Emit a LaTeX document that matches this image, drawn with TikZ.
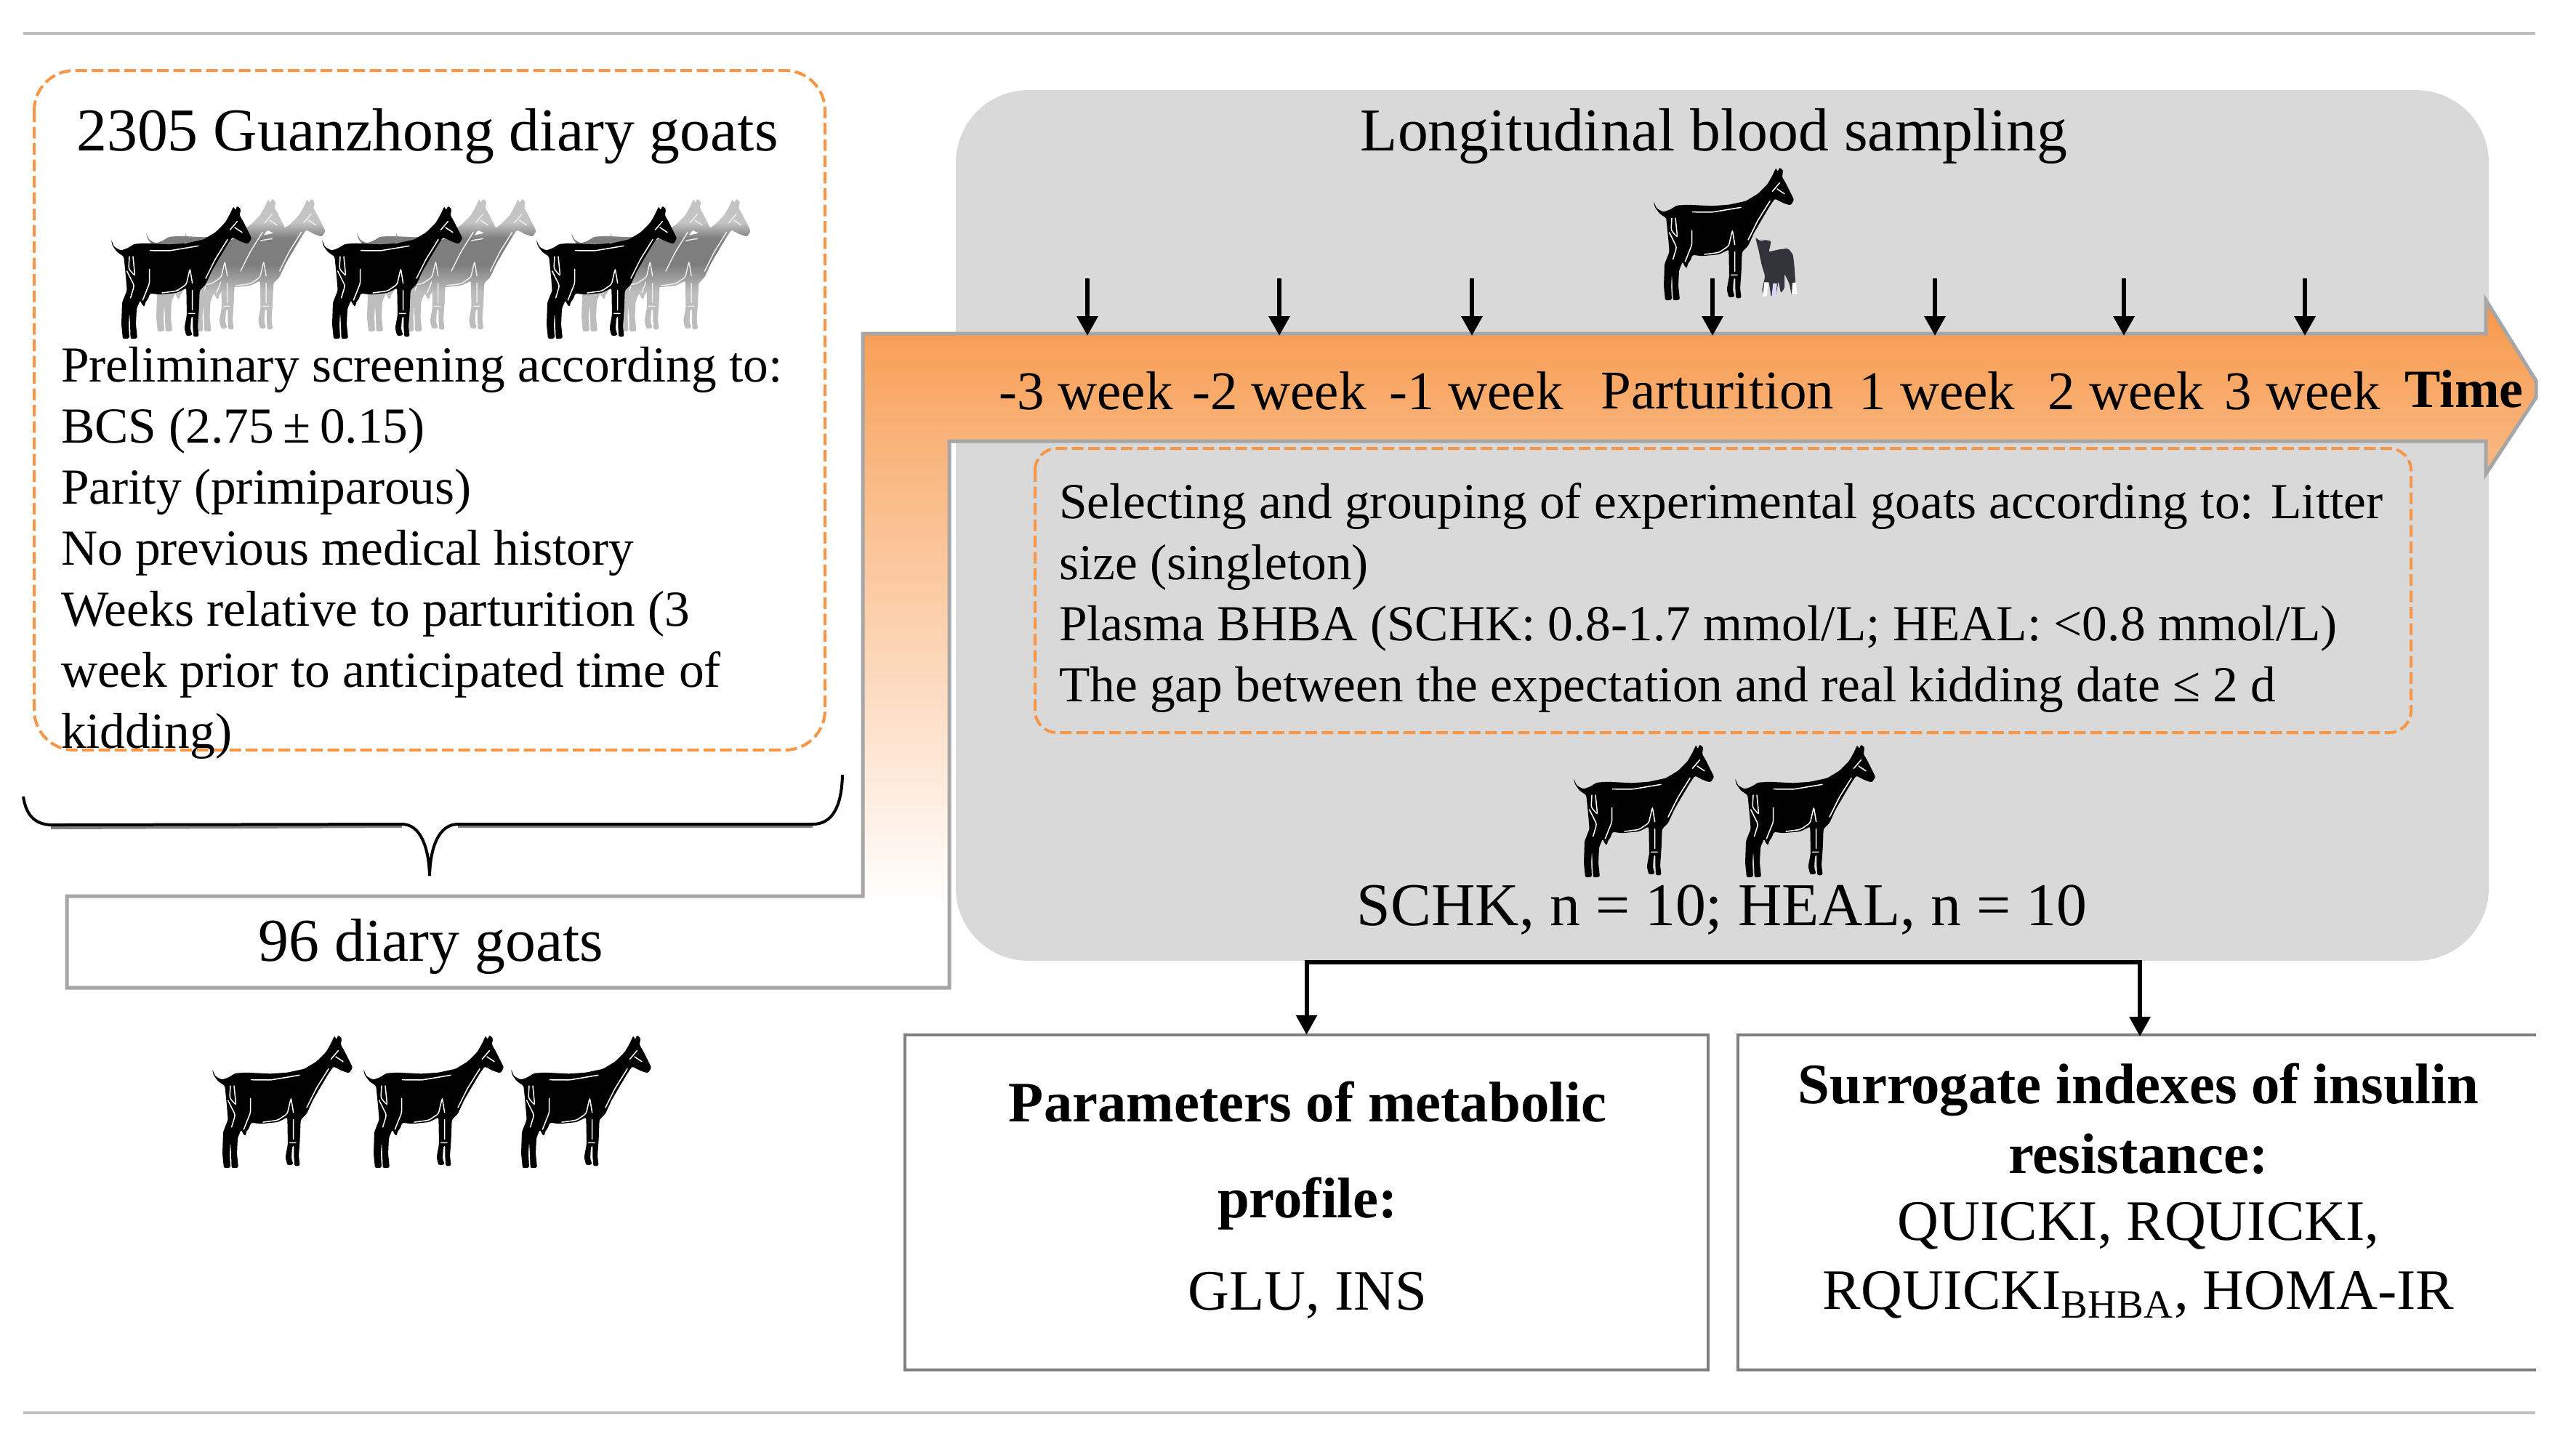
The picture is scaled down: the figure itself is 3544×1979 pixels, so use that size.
\documentclass[tikz,border=0pt]{standalone}
\usepackage{fontspec}
\setmainfont{Liberation Serif}
\usetikzlibrary{arrows.meta}
\definecolor{ruleg}{HTML}{BFBFBF}
\definecolor{panelg}{HTML}{D9D9D9}
\definecolor{arrowg}{HTML}{A6A6A6}
\definecolor{boxg}{HTML}{7F7F7F}
\definecolor{orangeD}{HTML}{F79646}
\definecolor{kidg}{HTML}{33333B}
\definecolor{ghostTop}{HTML}{C4C4C4}
\definecolor{ghostMid}{HTML}{7E7E7E}
\definecolor{ghostLow}{HTML}{BDBDBD}
\pgfdeclareverticalshading{bentfade}{100bp}{
  color(0bp)=(white); color(31bp)=(white); color(44bp)=(orangeD!28!white);
  color(64.7bp)=(orangeD!72!white); color(72.6bp)=(orangeD!92!white);
  color(75bp)=(orangeD); color(100bp)=(orangeD)}
\pgfdeclareverticalshading{ghostfade}{100bp}{
  color(0bp)=(ghostLow); color(25bp)=(ghostLow); color(40bp)=(ghostLow); color(50bp)=(ghostMid);
  color(60bp)=(ghostMid); color(66bp)=(ghostTop); color(75bp)=(ghostTop); color(100bp)=(ghostTop)}
\newcommand{\goatOutline}{(160,270) -- (172,300) -- (200,315) -- (228,305) -- (255,288) -- (300,285) -- (400,290) -- (470,285) -- (540,270) -- (590,240) -- (630,200) -- (650,165) -- (665,132) -- (672,150) -- (680,130) -- (690,140) -- (695,145) -- (690,170) -- (705,195) -- (725,235) -- (740,265) -- (725,288) -- (695,278) -- (660,260) -- (640,290) -- (610,340) -- (575,400) -- (550,455) -- (525,480) -- (522,560) -- (517,630) -- (522,670) -- (500,672) -- (497,630) -- (497,585) -- (490,590) -- (487,640) -- (495,665) -- (470,668) -- (462,635) -- (472,580) -- (470,470) -- (430,490) -- (360,497) -- (320,492) -- (312,515) -- (300,530) -- (298,548) -- (288,540) -- (280,520) -- (265,555) -- (262,620) -- (268,678) -- (240,680) -- (238,620) -- (235,570) -- (232,620) -- (235,678) -- (208,680) -- (202,620) -- (205,530) -- (225,480) -- (220,420) -- (212,340) -- (185,322) -- (165,295) -- cycle}
\newcommand{\goatLines}[1]{%
  \draw[#1,line width=.3pt,line cap=round,rounded corners=.6pt]
    (320,315) -- (400,316) -- (520,296)
    (550,430) -- (590,350) -- (640,270)
    (370,490) -- (430,482) -- (470,455) -- (485,390) -- (495,450)
    (318,392) -- (318,450) -- (290,520)
    (235,340) -- (232,390) -- (258,420) -- (250,340)
    (225,400) -- (255,460) -- (240,510)
    (650,230) -- (680,195)
    (670,220) -- (700,240)
    (495,480) -- (495,560) (480,575) -- (505,575);}
\tikzset{
  x=0.2pt,y=-0.2pt,
  txt/.style={inner sep=0pt,font=\fontsize{13.88}{16.8}\selectfont},
  head/.style={inner sep=0pt,font=\fontsize{16.75}{19}\selectfont},
  wk/.style={inner sep=0pt,font=\fontsize{15}{17}\selectfont},
  bx/.style={inner sep=0pt,font=\fontsize{15.75}{18}\selectfont,align=center},
  bxb/.style={inner sep=0pt,font=\fontsize{15.75}{18}\selectfont\bfseries,align=center},
  dashbox/.style={draw=orangeD,line width=.8pt,dash pattern=on 3.2pt off 1.3pt,rounded corners=6pt,inner sep=0pt,anchor=north west},
  tick/.style={line width=1.3pt,-{Triangle[width=5.6pt,length=5.4pt]}},
  conn/.style={line width=1.2pt,shorten >=-.4pt,-{Triangle[width=5.6pt,length=5.4pt]}},
  rulel/.style={draw=ruleg,line width=.8pt},
  goat/.pic={\begin{scope}[scale=1/3,shift={(-160,-130)}]
      \fill[black,rounded corners=.5pt] \goatOutline;
      \goatLines{white}
    \end{scope}},
  ghostgoat/.pic={\begin{scope}[scale=1/3,shift={(-160,-130)}]
      \path[shading=ghostfade,rounded corners=.5pt] \goatOutline;
      \goatLines{gray!15}
    \end{scope}},
  kid/.pic={\begin{scope}[scale=1/3,shift={(-375,-90)}]
      \fill[kidg,rounded corners=.4pt] (795,380) -- (815,395) -- (835,390) -- (860,395) -- (855,420) -- (850,440) -- (890,430) -- (930,425) -- (950,450) -- (955,490) -- (960,560) -- (965,610) -- (945,620) -- (935,570) -- (915,530) -- (915,590) -- (900,610) -- (890,560) -- (880,620) -- (860,625) -- (850,560) -- (830,620) -- (822,600) -- (835,540) -- (820,490) -- (810,440) -- (800,400) -- cycle;
      \fill[white] (825,625) -- (832,565) -- (848,565) -- (842,622) -- cycle
                   (945,618) -- (948,568) -- (962,565) -- (968,612) -- cycle;
      \fill[blue!15!white] (862,625) -- (868,570) -- (884,570) -- (880,622) -- cycle;
    \end{scope}}
}
\begin{document}
\begin{tikzpicture}
\useasboundingbox (0,0) rectangle (3544,1979);
% rules
\coordinate (ruleTL) at (32,46); \coordinate (ruleTR) at (3488,46);
\coordinate (ruleBL) at (32,1944); \coordinate (ruleBR) at (3488,1944);
\draw[rulel] (ruleTL) -- (ruleTR);
\draw[rulel] (ruleBL) -- (ruleBR);
% panel
\fill[panelg,rounded corners=20pt] (1315,124) rectangle (3424,1322);
% bent arrow
\path[shading=bentfade,draw=arrowg,line width=1pt,line join=miter]
  (1187,459) -- (3420,459) -- (3420,413) -- (3489,524) -- (3489,547) -- (3420,652) -- (3420,607)
  -- (1306,607) -- (1306,1359) -- (92,1359) -- (92,1233) -- (1187,1233) -- cycle;
% first box
\draw[dashbox,rounded corners=11pt] (47,97) rectangle (1135,1032);
\node[head] (titleA) at (588,187) {2305 Guanzhong diary goats};
\foreach \gx/\gn in {153/a,443/b,738/c}{
  \pic at ({\gx+101.5},273) {ghostgoat};
  \pic at ({\gx+48},273) {ghostgoat};
  \pic at (\gx,283) {goat};
}
\node[txt,anchor=north west,align=left] (screen) at (83,476) {Preliminary screening according to:\\
BCS (2.75\hspace{.18em}±\hspace{.18em}0.15)\\
Parity (primiparous)\\
No previous medical history\\
Weeks relative to parturition (3\\
week prior to anticipated time of\\
kidding)};
% brace
\coordinate (brL) at (32,1096); \coordinate (brR) at (1159,1066); \coordinate (brT) at (591,1205);
\draw[gray,line width=.8pt] (70,1139) -- (553,1137) (630,1137) -- (1118,1137);
\draw[black,line width=.8pt] (brL) .. controls (36,1122) and (48,1134) .. (70,1135) -- (553,1134)
  .. controls (578,1134) and (590,1165) .. (brT) .. controls (592,1165) and (604,1134) .. (630,1134)
  -- (1118,1134) .. controls (1145,1134) and (1158,1110) .. (brR);
\node[head] (count) at (593,1302) {96 diary goats};
\foreach \gx in {292,500,703}{ \pic at (\gx,1424) {goat}; }
% top of panel
\node[head] (titleB) at (2358,187) {Longitudinal blood sampling};
\pic at (2275,230) {goat};
\pic at (2275,230) {kid};
% time arrows and labels
\foreach \ax/\nm/\lx/\lb in {1496/a/1494/{-3 week},1760/b/1760/{-2 week},2025/c/2031/{-1 week},2356/d/2363/{Parturition},2662/e/2665/{1 week},2922/f/2925/{2 week},3171/g/3168/{3 week}}{
  \coordinate (t\nm) at (\ax,383);
  \coordinate (b\nm) at (\ax,462);
  \draw[tick] (t\nm) -- (b\nm);
  \node[wk] (l\nm) at (\lx,538) {\lb};
}
\node[wk,font=\fontsize{14.8}{17}\selectfont\bfseries] (timeL) at (3390,535) {Time};
% second dashed box
\draw[dashbox] (1424,617) rectangle (3317,1008);
\node[txt,anchor=north west,align=left] (grouping) at (1456,664) {Selecting and grouping of experimental goats according to: Litter\\
size (singleton)\\
Plasma BHBA (SCHK: 0.8-1.7 mmol/L; HEAL: <0.8 mmol/L)\\
The gap between the expectation and real kidding date ≤ 2 d};
\pic at (2165,1024) {goat};
\pic at (2387,1024) {goat};
\node[head] (groups) at (2369,1252) {SCHK, n = 10; HEAL, n = 10};
% bottom boxes
\node[draw=boxg,line width=.9pt,minimum width=1105*0.2pt,minimum height=461*0.2pt,inner sep=0pt] (param) at (1797.5,1654.5) {};
\coordinate (srTL) at (2391,1424); \coordinate (srTR) at (3489,1424);
\coordinate (srBL) at (2391,1885); \coordinate (srBR) at (3489,1885);
\coordinate (srN) at (2944,1424);
\draw[boxg,line width=.9pt] (srTR) -- (srTL) -- (srBL) -- (srBR);
\coordinate (bus) at (2369,1324);
\draw[conn] (bus) -| (param.north);
\draw[conn] (bus) -| (srN);
\node[bxb] (p1) at (1799,1516) {Parameters of metabolic};
\node[bxb] (p2) at (1799,1656) {profile:};
\node[bx] (p3) at (1799,1782) {GLU, INS};
\node[bxb] (s1) at (2942,1499) {Surrogate indexes of insulin};
\node[bxb] (s2) at (2942,1588) {resistance:};
\node[bx] (s3) at (2942,1687) {QUICKI, RQUICKI,};
\node[bx] (s4) at (2942,1782) {RQUICKI\textsubscript{BHBA}, HOMA-IR};
\end{tikzpicture}
\end{document}
